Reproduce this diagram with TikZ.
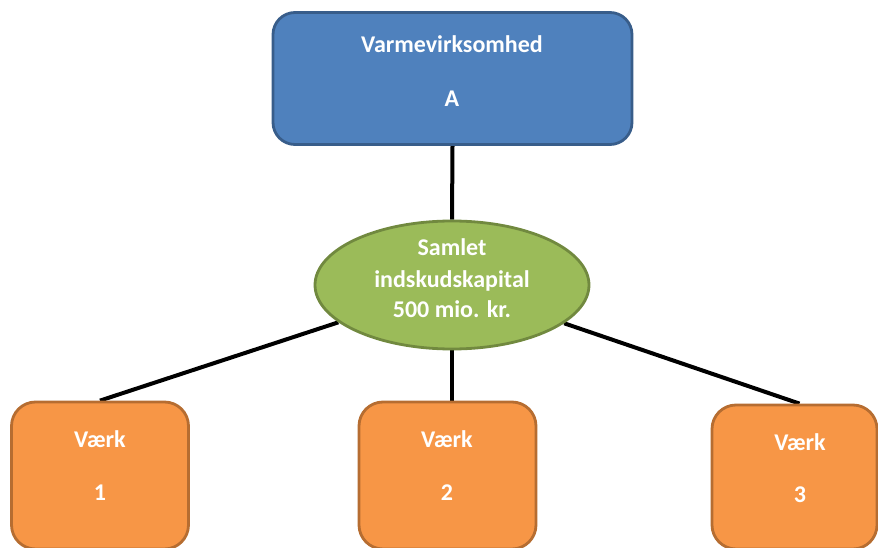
\documentclass[tikz,border=0pt]{standalone}
\usepackage{fontspec}
\setmainfont{Carlito}
\usetikzlibrary{shapes.geometric,backgrounds}
\definecolor{bfill}{HTML}{4F81BD}
\definecolor{bdraw}{HTML}{385D8A}
\definecolor{gfill}{HTML}{9BBB59}
\definecolor{gdraw}{HTML}{71893F}
\definecolor{ofill}{HTML}{F79646}
\definecolor{odraw}{HTML}{B66D31}
\begin{document}
\begin{tikzpicture}[x=1pt,y=-1pt,
  bluebox/.style={draw=bdraw,fill=bfill,line width=2.8pt,rounded corners=22pt,inner sep=0pt},
  orangebox/.style={draw=odraw,fill=ofill,line width=2.8pt,rounded corners=24pt,inner sep=0pt,minimum width=177pt,minimum height=147pt},
  greenell/.style={ellipse,draw=gdraw,fill=gfill,line width=2.8pt,inner sep=0pt,minimum width=274pt,minimum height=128pt},
  lbl/.style={text=white,font=\fontsize{24}{28}\selectfont\bfseries,inner sep=0pt,anchor=base},
  conn/.style={draw=black,line width=4pt}]
\useasboundingbox (0,0) rectangle (878,548);
\node[bluebox,minimum width=359pt,minimum height=132pt] (top) at (452.5,78.5) {};
\node[greenell] (ell) at (452,285) {};
\node[orangebox] (b1) at (100,475.5) {};
\node[orangebox] (b2) at (447.5,475.5) {};
\node[orangebox,minimum width=165pt,minimum height=144pt] (b3) at (794.5,477) {};
\node[lbl] (t1) at (452,53) {Varmevirksomhed};
\node[lbl] (t2) at (452,107) {A};
\node[lbl] (e1) at (452,255) {Samlet};
\node[lbl] (e2) at (452,287) {indskudskapital};
\node[lbl] (e3) at (452,317) {500 mio. kr.};
\node[lbl] (v1) at (100,447) {Værk};
\node[lbl] (n1) at (100,500) {1};
\node[lbl] (v2) at (447,447) {Værk};
\node[lbl] (n2) at (447,500) {2};
\node[lbl] (v3) at (800,450) {Værk};
\node[lbl] (n3) at (800,502) {3};
\coordinate (c3) at ([xshift=5pt]b3.north);
\begin{scope}[on background layer]
\draw[conn] (top.south) -- (ell.north);
\draw[conn] (ell) -- (b1.north);
\draw[conn] (ell.south) -- (ell.south |- b2.north);
\draw[conn] (ell) -- (c3);
\end{scope}
\end{tikzpicture}
\end{document}
